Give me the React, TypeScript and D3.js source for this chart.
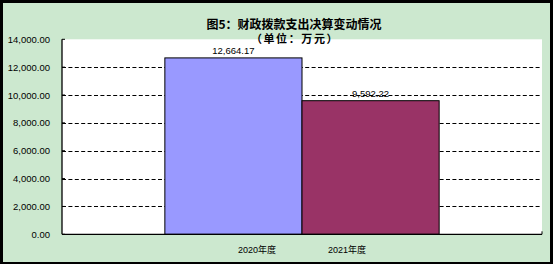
import React from "react";
import * as d3 from "d3";

const title = "图5：财政拨款支出决算变动情况";
const subtitle = "（单位：万元）";
const seriesNames = ["2020年度", "2021年度"];
const seriesValues = [12664.17, 9592.22];
const seriesColors = ["#9999FF", "#993366"];
const yTicks = [0, 2000, 4000, 6000, 8000, 10000, 12000, 14000];

const W = 553;
const H = 264;
const plot = { left: 62, right: 542, top: 39.3, bottom: 234.3 };
const numFont = "'Liberation Sans', 'Noto Sans CJK SC', sans-serif";

export default function App() {
  const y = d3.scaleLinear().domain([0, 14000]).range([plot.bottom, plot.top]);
  const cat = d3
    .scaleBand<string>()
    .domain(["all"])
    .range([plot.left, plot.right])
    .paddingInner(0)
    .paddingOuter(0.375);
  const x = d3
    .scaleBand<string>()
    .domain(seriesNames)
    .range([cat("all") as number, (cat("all") as number) + cat.bandwidth()])
    .padding(0);
  const mid = (cat("all") as number) + cat.bandwidth() / 2;
  const xl = d3.scalePoint<string>().domain(seriesNames).range([mid - 45, mid + 45]);
  const fmt = d3.format(",.2f");

  return (
    <svg
      width={W}
      height={H}
      style={{ position: "absolute", left: 0, top: 0, display: "block" }}
    >
      <rect x={0} y={0} width={W} height={H} fill="#000" />
      <rect x={3} y={3} width={W - 6} height={H - 5} fill="#CCE8CF" />
      <rect
        x={plot.left}
        y={plot.top}
        width={plot.right - plot.left}
        height={plot.bottom - plot.top}
        fill="#fff"
      />
      {yTicks
        .filter((t) => t > 0 && t < 14000)
        .map((t) => (
          <line
            key={"g" + t}
            x1={plot.left}
            x2={plot.right}
            y1={Math.round(y(t)) + 0.5}
            y2={Math.round(y(t)) + 0.5}
            stroke="#000"
            strokeWidth={1}
            strokeDasharray="4,2.4"
          />
        ))}
      {seriesNames.map((s, i) => (
        <rect
          key={s}
          x={x(s)}
          y={y(seriesValues[i])}
          width={x.bandwidth()}
          height={plot.bottom - y(seriesValues[i])}
          fill={seriesColors[i]}
          stroke="#000"
          strokeWidth={1}
        />
      ))}
      <line x1={plot.left} x2={plot.left} y1={plot.top} y2={plot.bottom} stroke="#000" strokeWidth={1.3} />
      <line x1={plot.left} x2={plot.right} y1={plot.bottom} y2={plot.bottom} stroke="#000" strokeWidth={1.3} />
      <line x1={plot.right} x2={plot.right} y1={plot.bottom} y2={plot.bottom - 3} stroke="#000" strokeWidth={1} />
      {yTicks.map((t) => (
        <g key={"t" + t}>
          <line x1={plot.left} x2={plot.left + 3} y1={y(t)} y2={y(t)} stroke="#000" strokeWidth={1} />
          <text
            x={50}
            y={y(t)}
            textAnchor="end"
            dominantBaseline="central"
            fontFamily={numFont}
            fontSize={9.5}
            fill="#000"
          >
            {fmt(t)}
          </text>
        </g>
      ))}
      {seriesNames.map((s, i) => (
        <text
          key={"l" + s}
          x={(x(s) as number) + x.bandwidth() / 2}
          y={y(seriesValues[i]) - 7}
          textAnchor="middle"
          dominantBaseline="central"
          fontFamily={numFont}
          fontSize={9.5}
          fill="#000"
        >
          {fmt(seriesValues[i])}
        </text>
      ))}
      {seriesNames.map((s) => (
        <text
          key={"x" + s}
          x={xl(s)}
          y={249.5}
          textAnchor="middle"
          dominantBaseline="central"
          fontFamily={numFont}
          fontSize={9}
          fill="#000"
        >
          {s}
        </text>
      ))}
      <text
        x={294}
        y={23}
        textAnchor="middle"
        dominantBaseline="central"
        fontFamily="'Noto Sans CJK SC', sans-serif"
        fontWeight="bold"
        fontSize={12}
        fill="#000"
      >
        {title}
      </text>
      <text
        x={295}
        y={38.3}
        textAnchor="middle"
        dominantBaseline="central"
        fontFamily="'Noto Sans CJK SC', sans-serif"
        fontWeight="bold"
        fontSize={11}
        letterSpacing={1.6}
        fill="#000"
      >
        {subtitle}
      </text>
    </svg>
  );
}
